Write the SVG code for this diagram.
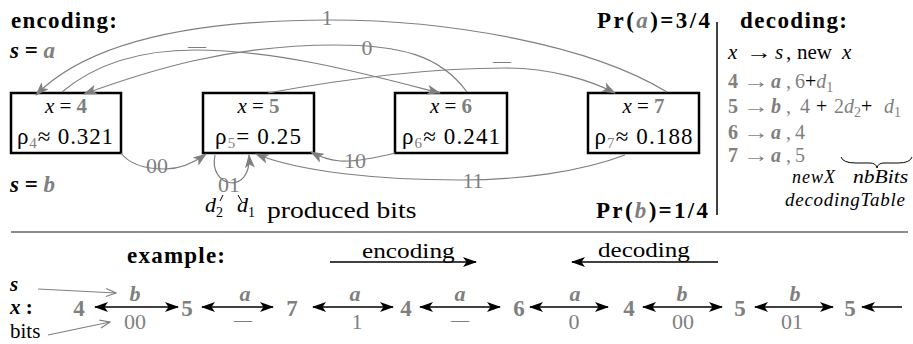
<svg xmlns="http://www.w3.org/2000/svg" width="913" height="344" viewBox="0 0 913 344">
<style>
text { font-family: "Liberation Serif", "Times New Roman", serif; fill:#000; }
.g { fill:#7f7f7f; }
.b { font-weight:bold; }
.i { font-style:italic; }
.box { fill:#fff; stroke:#000; stroke-width:2.5; }
.arc { fill:none; stroke:#7f7f7f; stroke-width:1.2; }
.dbl { fill:none; stroke:#000; stroke-width:1.3; }
.thin { fill:none; stroke:#000; stroke-width:1; }
</style>
<defs>
<marker id="ag" viewBox="0 0 14 10" refX="13" refY="5" markerWidth="14" markerHeight="10" markerUnits="userSpaceOnUse" orient="auto"><path d="M0,0 L14,5 L0,10 L3.5,5 z" fill="#7f7f7f"/></marker>
<marker id="ab" viewBox="0 0 14 10" refX="13" refY="5" markerWidth="14" markerHeight="10" markerUnits="userSpaceOnUse" orient="auto-start-reverse"><path d="M0,0 L14,5 L0,10 L3.5,5 z" fill="#000"/></marker>
<marker id="ao" viewBox="0 0 12 10" refX="11" refY="5" markerWidth="12" markerHeight="10" markerUnits="userSpaceOnUse" orient="auto"><path d="M1,1 L11,5 L1,9" fill="none" stroke="#7f7f7f" stroke-width="1.2"/></marker>
</defs>

<!-- headings -->
<text x="11" y="28" font-size="23" class="b" textLength="106">encoding:</text>
<text x="10" y="58" font-size="23" class="b"><tspan class="i">s</tspan> = <tspan class="i g">a</tspan></text>
<text x="10" y="192" font-size="23" class="b"><tspan class="i">s</tspan> = <tspan class="i g">b</tspan></text>
<text x="597" y="28" font-size="23" class="b" textLength="113">Pr(<tspan class="i g">a</tspan>)=3/4</text>
<text x="596" y="218" font-size="23" class="b" textLength="112">Pr(<tspan class="i g">b</tspan>)=1/4</text>
<text transform="translate(267,218) scale(1.2,1)" font-size="23">produced bits</text>
<text x="205" y="212" font-size="22" class="i">d<tspan font-size="14" dy="5" font-style="normal">2</tspan></text>
<text x="237" y="212" font-size="22" class="i">d<tspan font-size="14" dy="5" font-style="normal">1</tspan></text>
<line class="thin" x1="223" y1="195" x2="220" y2="201"/>
<line class="thin" x1="238" y1="195" x2="242" y2="202"/>

<!-- nodes -->
<g id="node-x4">
<rect class="box" x="11" y="93" width="110" height="60"/>
<text x="66" y="113" font-size="21" text-anchor="middle"><tspan class="i">x</tspan> = <tspan class="b g">4</tspan></text>
<text x="65" y="144" font-size="23" text-anchor="middle" textLength="96">ρ<tspan class="g" font-size="15" dy="4">4</tspan><tspan dy="-4">≈ 0.321</tspan></text>
</g>
<g id="node-x5">
<rect class="box" x="203" y="93" width="111" height="60"/>
<text x="258.5" y="113" font-size="21" text-anchor="middle"><tspan class="i">x</tspan> = <tspan class="b g">5</tspan></text>
<text x="258" y="144" font-size="23" text-anchor="middle" textLength="86">ρ<tspan class="g" font-size="15" dy="4">5</tspan><tspan dy="-4">= 0.25</tspan></text>
</g>
<g id="node-x6">
<rect class="box" x="395" y="93" width="112" height="60"/>
<text x="451" y="113" font-size="21" text-anchor="middle"><tspan class="i">x</tspan> = <tspan class="b g">6</tspan></text>
<text x="451" y="144" font-size="23" text-anchor="middle" textLength="98">ρ<tspan class="g" font-size="15" dy="4">6</tspan><tspan dy="-4">≈ 0.241</tspan></text>
</g>
<g id="node-x7">
<rect class="box" x="588" y="93" width="111" height="60"/>
<text x="643.5" y="113" font-size="21" text-anchor="middle"><tspan class="i">x</tspan> = <tspan class="b g">7</tspan></text>
<text x="643.5" y="144" font-size="23" text-anchor="middle" textLength="98">ρ<tspan class="g" font-size="15" dy="4">7</tspan><tspan dy="-4">≈ 0.188</tspan></text>
</g>

<!-- connectors -->
<g id="connectors">
<path class="arc" d="M667,92 C 590,45 450,20 330,20 C 200,20 90,40 36,95" marker-end="url(#ag)"/>
<path class="arc" d="M467,92 C 440,55 400,45 335,45 C 230,45 150,70 84,94" marker-end="url(#ag)"/>
<path class="arc" d="M62,92 C 100,60 150,50 195,50 C 280,50 370,75 440,93" marker-end="url(#ag)"/>
<path class="arc" d="M268,93 C 350,78 430,68 505,68 C 550,68 590,80 615,93" marker-end="url(#ag)"/>
<path class="arc" d="M121,153 C 130,165 145,169 165,169 C 182,169 195,162 206,154" marker-end="url(#ag)"/>
<path class="arc" d="M215,155 C 208,188 252,196 249,155" marker-end="url(#ag)"/>
<path class="arc" d="M395,153 C 375,158 355,162 340,161 C 330,160 320,157 311,152" marker-end="url(#ag)"/>
<path class="arc" d="M625,155 C 580,172 520,180 460,180 C 380,180 300,172 256,154" marker-end="url(#ag)"/>
<text x="327" y="25" font-size="22" class="g" text-anchor="middle">1</text>
<text x="367" y="55" font-size="22" class="g" text-anchor="middle">0</text>
<text x="197" y="52" font-size="18" class="g" text-anchor="middle">—</text>
<text x="502" y="67" font-size="18" class="g" text-anchor="middle">—</text>
<text x="157" y="173" font-size="22" class="g" text-anchor="middle">00</text>
<text x="229" y="192" font-size="22" class="g" text-anchor="middle">01</text>
<text x="355" y="168" font-size="22" class="g" text-anchor="middle">10</text>
<text x="473" y="188" font-size="22" class="g" text-anchor="middle">11</text>
</g>

<!-- decoding side -->
<line x1="717" y1="22" x2="717" y2="215" stroke="#000" stroke-width="1.5"/>
<text x="740" y="28" font-size="23" class="b" textLength="107">decoding:</text>
<text y="59" font-size="21"><tspan x="728" class="i">x</tspan><tspan x="775" class="i">s</tspan><tspan x="786">,</tspan><tspan x="797">new</tspan><tspan x="842" class="i">x</tspan></text>
<text transform="translate(746,59) scale(1.3,1)" font-size="20">→</text>
<text y="88" font-size="20" class="g"><tspan x="728" class="b">4</tspan><tspan x="771" class="i b">a</tspan><tspan x="786">,</tspan><tspan x="795">6</tspan><tspan fill="#000">+</tspan><tspan class="i">d</tspan><tspan font-size="14" dy="4">1</tspan></text>
<text transform="translate(743,88) scale(1.3,1)" font-size="20" class="g">→</text>
<text y="113" font-size="20" class="g"><tspan x="728" class="b">5</tspan><tspan x="771" class="i b">b</tspan><tspan x="786">,</tspan><tspan x="800">4</tspan><tspan x="816" fill="#000">+</tspan><tspan x="834">2</tspan><tspan class="i">d</tspan><tspan font-size="14" dy="4">2</tspan><tspan dy="-4" fill="#000">+</tspan><tspan x="884" class="i">d</tspan><tspan font-size="14" dy="4">1</tspan></text>
<text transform="translate(743,113) scale(1.3,1)" font-size="20" class="g">→</text>
<text y="139" font-size="20" class="g"><tspan x="728" class="b">6</tspan><tspan x="771" class="i b">a</tspan><tspan x="786">,</tspan><tspan x="795">4</tspan></text>
<text transform="translate(743,139) scale(1.3,1)" font-size="20" class="g">→</text>
<text y="162" font-size="20" class="g"><tspan x="728" class="b">7</tspan><tspan x="771" class="i b">a</tspan><tspan x="786">,</tspan><tspan x="795">5</tspan></text>
<text transform="translate(743,162) scale(1.3,1)" font-size="20" class="g">→</text>
<path d="M841,157 Q843,163 856,163 L870,163 Q876,163 877,168 Q878,163 884,163 L898,163 Q910,163 912,157" fill="none" stroke="#000" stroke-width="1"/>
<text x="792" y="183" font-size="18" class="i" textLength="43">newX</text>
<text transform="translate(853,183) scale(1.2,1)" font-size="18" class="i">nbBits</text>
<text x="785" y="206" font-size="19" class="i" textLength="120">decodingTable</text>

<!-- example -->
<line x1="11" y1="232" x2="908" y2="232" stroke="#666" stroke-width="1.5"/>
<text x="127" y="263" font-size="23" class="b" textLength="98">example:</text>
<text transform="translate(362,258) scale(1.15,1)" font-size="22">encoding</text>
<line class="dbl" x1="330" y1="262" x2="476" y2="262" marker-end="url(#ab)"/>
<text transform="translate(598,257) scale(1.14,1)" font-size="22">decoding</text>
<line class="dbl" x1="718" y1="262" x2="572" y2="262" marker-end="url(#ab)"/>

<text x="10" y="291" font-size="21" class="b i">s</text>
<text x="10" y="314" font-size="21" class="b"><tspan class="i">x</tspan> :</text>
<text x="10" y="338" font-size="21">bits</text>
<path class="arc" d="M38,289 L116,293" marker-end="url(#ao)"/>
<path class="arc" d="M48,335 L110,322" marker-end="url(#ao)"/>

<g font-size="23" text-anchor="middle">
<text class="b g" x="79" y="316">4</text>
<text class="b g" x="187" y="316">5</text>
<text class="b g" x="292" y="316">7</text>
<text class="b g" x="406" y="316">4</text>
<text class="b g" x="519" y="316">6</text>
<text class="b g" x="629" y="316">4</text>
<text class="b g" x="740" y="316">5</text>
<text class="b g" x="850" y="316">5</text>
</g>
<line class="dbl" x1="95" y1="307" x2="178" y2="307" marker-start="url(#ab)" marker-end="url(#ab)"/>
<line class="dbl" x1="202" y1="307" x2="273" y2="307" marker-start="url(#ab)" marker-end="url(#ab)"/>
<line class="dbl" x1="313" y1="307" x2="393" y2="307" marker-start="url(#ab)" marker-end="url(#ab)"/>
<line class="dbl" x1="420" y1="307" x2="500" y2="307" marker-start="url(#ab)" marker-end="url(#ab)"/>
<line class="dbl" x1="530" y1="307" x2="608" y2="307" marker-start="url(#ab)" marker-end="url(#ab)"/>
<line class="dbl" x1="643" y1="307" x2="722" y2="307" marker-start="url(#ab)" marker-end="url(#ab)"/>
<line class="dbl" x1="755" y1="307" x2="833" y2="307" marker-start="url(#ab)" marker-end="url(#ab)"/>
<line class="dbl" x1="902" y1="307" x2="862" y2="307" marker-end="url(#ab)"/>

<text x="135" y="301" font-size="22" class="b i g" text-anchor="middle">b</text>
<text x="245" y="301" font-size="22" class="b i g" text-anchor="middle">a</text>
<text x="355" y="301" font-size="22" class="b i g" text-anchor="middle">a</text>
<text x="460" y="301" font-size="22" class="b i g" text-anchor="middle">a</text>
<text x="575" y="301" font-size="22" class="b i g" text-anchor="middle">a</text>
<text x="682" y="301" font-size="22" class="b i g" text-anchor="middle">b</text>
<text x="795" y="301" font-size="22" class="b i g" text-anchor="middle">b</text>

<text x="135" y="329" font-size="22" class="g" text-anchor="middle">00</text>
<text x="243" y="326" font-size="18" class="g" text-anchor="middle">—</text>
<text x="357" y="329" font-size="22" class="g" text-anchor="middle">1</text>
<text x="460" y="326" font-size="18" class="g" text-anchor="middle">—</text>
<text x="574" y="329" font-size="22" class="g" text-anchor="middle">0</text>
<text x="683" y="329" font-size="22" class="g" text-anchor="middle">00</text>
<text x="792" y="329" font-size="22" class="g" text-anchor="middle">01</text>
</svg>
